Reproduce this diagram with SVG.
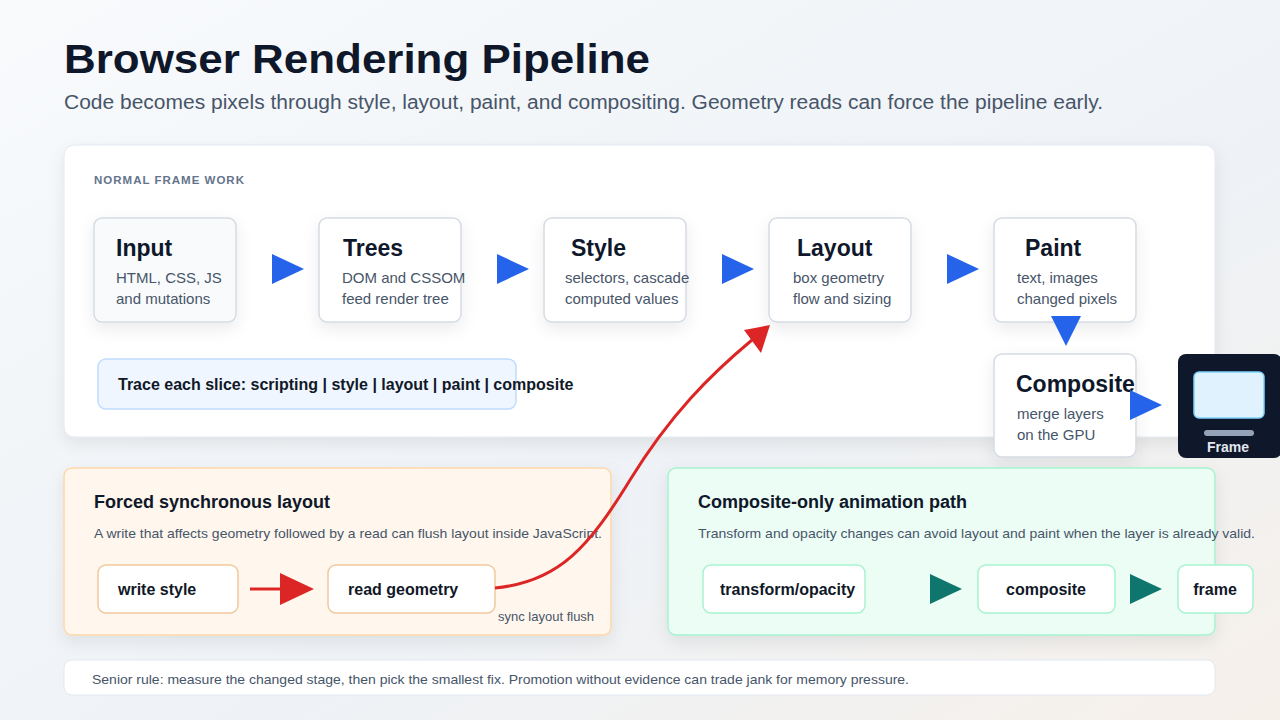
<svg xmlns="http://www.w3.org/2000/svg" width="1280" height="720" viewBox="0 0 1280 720">
<defs>
<linearGradient id="bg" x1="0" y1="0" x2="1" y2="1"><stop offset="0" stop-color="#f8fafc"/><stop offset="0.6" stop-color="#eef2f6"/><stop offset="1" stop-color="#f6f0ea"/></linearGradient>
<filter id="sh" x="-20%" y="-20%" width="140%" height="150%"><feDropShadow dx="0" dy="6" stdDeviation="8" flood-color="#0f172a" flood-opacity="0.08"/></filter>
</defs>
<style>
text{font-family:"Liberation Sans",Arial,sans-serif}
.node{fill:#fff;stroke:#d5dbe3;stroke-width:1.5;filter:url(#sh)}
.nt{font-size:23px;font-weight:700;fill:#0f172a}
.ns{font-size:15px;fill:#475569}
.blue{fill:#2563eb}
.teal{fill:#0f766e}
.pill{fill:#fff;stroke-width:1.5}
.pt{font-size:16px;font-weight:700;fill:#111827}
</style>
<rect width="1280" height="720" fill="url(#bg)"/>
<text x="64" y="73" font-size="41" font-weight="700" fill="#0f172a" textLength="586" lengthAdjust="spacingAndGlyphs">Browser Rendering Pipeline</text>
<text x="64" y="109" font-size="20" fill="#475569" textLength="1039" lengthAdjust="spacingAndGlyphs">Code becomes pixels through style, layout, paint, and compositing. Geometry reads can force the pipeline early.</text>

<g id="main-panel">
<rect x="64" y="145" width="1151" height="292" rx="10" fill="#fff" stroke="#e2e8f0" filter="url(#sh)"/>
<text x="94" y="184" font-size="11.5" font-weight="700" fill="#64748b" letter-spacing="1">NORMAL FRAME WORK</text>
</g>
<g id="input"><rect class="node" x="94" y="218" width="142" height="104" rx="8" style="fill:#f8fafc"/><text class="nt" x="116" y="256">Input</text><text class="ns" x="116" y="283">HTML, CSS, JS</text><text class="ns" x="116" y="304">and mutations</text></g>
<g id="trees"><rect class="node" x="319" y="218" width="142" height="104" rx="8"/><text class="nt" x="343" y="256">Trees</text><text class="ns" x="342" y="283">DOM and CSSOM</text><text class="ns" x="342" y="304">feed render tree</text></g>
<g id="style"><rect class="node" x="544" y="218" width="142" height="104" rx="8"/><text class="nt" x="571" y="256">Style</text><text class="ns" x="565" y="283">selectors, cascade</text><text class="ns" x="565" y="304">computed values</text></g>
<g id="layout"><rect class="node" x="769" y="218" width="142" height="104" rx="8"/><text class="nt" x="797" y="256">Layout</text><text class="ns" x="793" y="283">box geometry</text><text class="ns" x="793" y="304">flow and sizing</text></g>
<g id="paint"><rect class="node" x="994" y="218" width="142" height="104" rx="8"/><text class="nt" x="1025" y="256">Paint</text><text class="ns" x="1017" y="283">text, images</text><text class="ns" x="1017" y="304">changed pixels</text></g>
<g id="composite"><rect class="node" x="994" y="354" width="142" height="103" rx="8"/><text class="nt" x="1016" y="392">Composite</text><text class="ns" x="1017" y="419">merge layers</text><text class="ns" x="1017" y="440">on the GPU</text></g>
<g id="frame"><rect x="1178" y="354" width="104" height="104" rx="8" fill="#0f172a"/><rect x="1194" y="372" width="70" height="46" rx="5" fill="#e0f2fe" stroke="#7dd3fc" stroke-width="1.5"/><rect x="1204" y="430" width="50" height="6" rx="3" fill="#94a3b8"/><text x="1228" y="452" font-size="14" font-weight="700" fill="#e2e8f0" text-anchor="middle">Frame</text></g>
<g id="trace"><rect x="98" y="359" width="418" height="50" rx="8" fill="#eff6ff" stroke="#bfdbfe" stroke-width="1.5"/><text x="118" y="390" font-size="16" font-weight="700" fill="#111827">Trace each slice: scripting | style | layout | paint | composite</text></g>

<g id="forced-panel"><rect x="64" y="468" width="547" height="167" rx="8" fill="#fff7ed" stroke="#fed7aa" stroke-width="1.5" filter="url(#sh)"/><text x="94" y="508" font-size="18" font-weight="700" fill="#0f172a">Forced synchronous layout</text><text x="94" y="538" font-size="13" fill="#475569" textLength="508" lengthAdjust="spacingAndGlyphs">A write that affects geometry followed by a read can flush layout inside JavaScript.</text><text x="498" y="621" font-size="13" fill="#475569">sync layout flush</text></g>
<g id="write-style"><rect class="pill" x="98" y="565" width="140" height="48" rx="8" stroke="#f2c89a"/><text class="pt" x="118" y="595">write style</text></g>
<g id="read-geometry"><rect class="pill" x="328" y="565" width="167" height="48" rx="8" stroke="#f2c89a"/><text class="pt" x="348" y="595">read geometry</text></g>

<g id="composite-panel"><rect x="668" y="468" width="547" height="167" rx="8" fill="#ecfdf5" stroke="#a7f3d0" stroke-width="1.5" filter="url(#sh)"/><text x="698" y="508" font-size="18" font-weight="700" fill="#0f172a">Composite-only animation path</text><text x="698" y="538" font-size="13" fill="#475569" textLength="557" lengthAdjust="spacingAndGlyphs">Transform and opacity changes can avoid layout and paint when the layer is already valid.</text></g>
<g id="transform"><rect class="pill" x="703" y="565" width="162" height="48" rx="8" stroke="#a7f3d0"/><text class="pt" x="720" y="595">transform/opacity</text></g>
<g id="composite2"><rect class="pill" x="978" y="565" width="137" height="48" rx="8" stroke="#a7f3d0"/><text class="pt" x="1046" y="595" text-anchor="middle">composite</text></g>
<g id="frame2"><rect class="pill" x="1178" y="565" width="75" height="48" rx="8" stroke="#a7f3d0"/><text class="pt" x="1215" y="595" text-anchor="middle">frame</text></g>

<g id="footer"><rect x="64" y="660" width="1151" height="35" rx="8" fill="#fff" stroke="#e2e8f0"/><text x="92" y="684" font-size="13" fill="#475569" textLength="817" lengthAdjust="spacingAndGlyphs">Senior rule: measure the changed stage, then pick the smallest fix. Promotion without evidence can trade jank for memory pressure.</text></g>

<g id="connectors">
<path class="blue" d="M272,254 L304,269 L272,284 z"/>
<path class="blue" d="M497,254 L529,269 L497,284 z"/>
<path class="blue" d="M722,254 L754,269 L722,284 z"/>
<path class="blue" d="M947,254 L979,269 L947,284 z"/>
<path class="blue" d="M1051,316 L1081,316 L1066,346 z"/>
<path class="blue" d="M1130,390 L1162,405 L1130,420 z"/>
<line x1="250" y1="589" x2="282" y2="589" stroke="#dc2626" stroke-width="3"/>
<path d="M280,573 L314,589 L280,605 z" fill="#dc2626"/>
<path d="M495,588 C560,582 590,545 630,480 C670,415 710,375 752,340" fill="none" stroke="#dc2626" stroke-width="3"/>
<path d="M770,325 L761,353 L744,330 z" fill="#dc2626"/>
<path class="teal" d="M930,574 L962,589 L930,604 z"/>
<path class="teal" d="M1130,574 L1162,589 L1130,604 z"/>
</g>
</svg>
